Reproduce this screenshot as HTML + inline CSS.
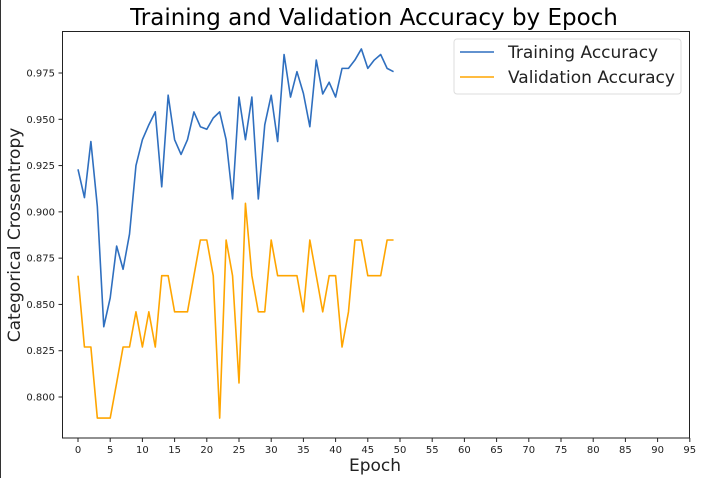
<!DOCTYPE html>
<html><head><meta charset="utf-8"><style>
body{margin:0;background:#fff;}
svg{display:block;font-family:"DejaVu Sans","Liberation Sans",sans-serif;}
</style></head><body>
<svg id="chart" width="701" height="478" viewBox="0 0 701 478">
<rect x="0" y="0" width="701" height="478" fill="#fff"/>
<line x1="0.5" y1="0" x2="0.5" y2="478" stroke="#333" stroke-width="1"/>
<text x="374" y="25" font-size="23" text-anchor="middle" fill="#000">Training and Validation Accuracy by Epoch</text>
<text x="375" y="471" font-size="17" text-anchor="middle" fill="#222">Epoch</text>
<text transform="translate(20,235) rotate(-90)" font-size="17" text-anchor="middle" fill="#222">Categorical Crossentropy</text>
<g id="xt"></g><g id="yt"></g><g id="series"></g>
<rect x="62.5" y="31.5" width="627" height="406.5" fill="none" stroke="#222" stroke-width="1"/>
<g>
<rect x="454" y="39" width="227" height="55" rx="3" fill="#fff" stroke="#ddd"/>
<line x1="460" y1="52" x2="494" y2="52" stroke="#2f6fbf" stroke-width="1.6"/>
<text x="508" y="58" font-size="17" fill="#222">Training Accuracy</text>
<line x1="460" y1="77" x2="494" y2="77" stroke="#ffa500" stroke-width="1.6"/>
<text x="508" y="83" font-size="17" fill="#222">Validation Accuracy</text>
</g>
</svg>
<script>
const xTicks=[0,5,10,15,20,25,30,35,40,45,50,55,60,65,70,75,80,85,90,95];
const yTicks=[0.800,0.825,0.850,0.875,0.900,0.925,0.950,0.975];
const trainAcc=[0.923,0.9077,0.938,0.903,0.838,0.8535,0.8815,0.869,0.888,0.925,0.939,0.947,0.954,0.9135,0.963,0.939,0.931,0.939,0.954,0.946,0.9446,0.9507,0.954,0.939,0.907,0.962,0.939,0.962,0.907,0.947,0.963,0.938,0.985,0.962,0.9757,0.964,0.946,0.982,0.9637,0.97,0.962,0.9775,0.9775,0.982,0.988,0.9775,0.982,0.985,0.9775,0.9757];
const valAcc=[0.8655,0.827,0.827,0.7886,0.7886,0.7886,0.8076,0.827,0.827,0.846,0.827,0.846,0.827,0.8655,0.8655,0.846,0.846,0.846,0.8655,0.8848,0.8848,0.8655,0.7886,0.8848,0.8655,0.8076,0.9046,0.8655,0.846,0.846,0.8848,0.8655,0.8655,0.8655,0.8655,0.846,0.8848,0.8655,0.846,0.8655,0.8655,0.827,0.846,0.8848,0.8848,0.8655,0.8655,0.8655,0.8848,0.8848];
const NS='http://www.w3.org/2000/svg';
const xs=v=>78+6.44*v;
const ys=v=>397-(v-0.8)*1851.4;
function mk(t,a,p){const e=document.createElementNS(NS,t);for(const k in a)e.setAttribute(k,a[k]);p.appendChild(e);return e;}
const xt=document.getElementById('xt'),yt=document.getElementById('yt'),sg=document.getElementById('series');
xTicks.forEach(v=>{
 const l=mk('line',{x1:xs(v),x2:xs(v),y1:438,y2:442,stroke:'#222'},xt);
 
 
 const t=mk('text',{x:xs(v),y:453,'font-size':10,'text-anchor':'middle',fill:'#222'},xt);
 t.textContent=v;
 
 
});
yTicks.forEach(v=>{
 const l=mk('line',{x1:58.5,x2:62.5,y1:ys(v),y2:ys(v),stroke:'#222'},yt);
 
 
 const t=mk('text',{x:55,y:ys(v)+3.5,'font-size':10,'text-anchor':'end',fill:'#222'},yt);
 t.textContent=v.toFixed(3);
 
 
});
function line(arr,color,name){
 const p=mk('polyline',{points:arr.map((v,i)=>xs(i)+','+ys(v)).join(' '),fill:'none',stroke:color,'stroke-width':1.6,'stroke-linejoin':'round'},sg);
 
 
}
line(trainAcc,'#2f6fbf','training-accuracy-line');
line(valAcc,'#ffa500','validation-accuracy-line');
</script>
</body></html>
